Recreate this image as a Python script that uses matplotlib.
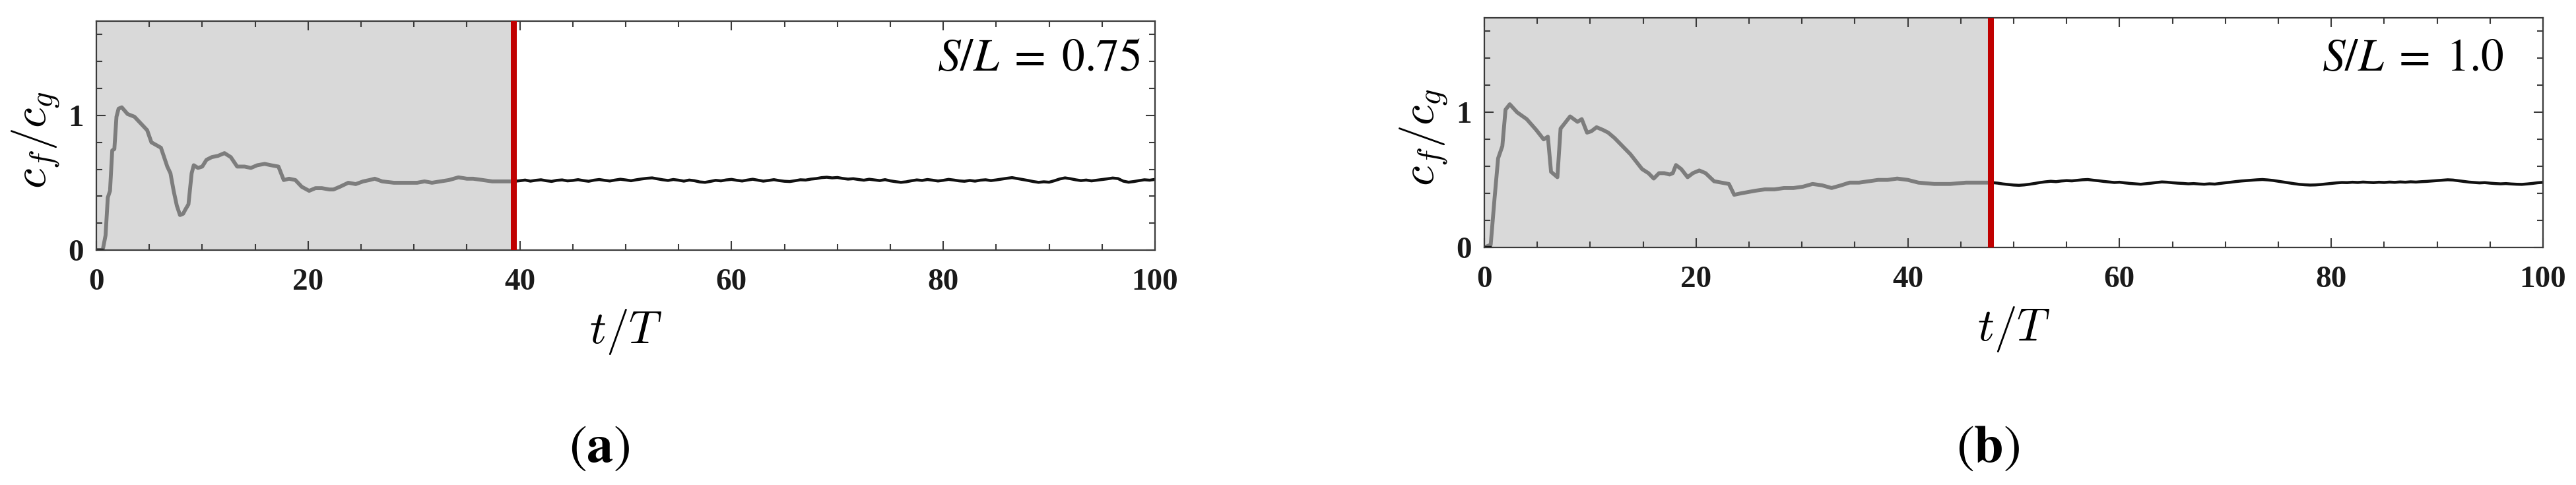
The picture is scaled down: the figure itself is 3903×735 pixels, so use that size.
import numpy as np
import matplotlib
matplotlib.use("Agg")
import matplotlib.pyplot as plt
from matplotlib.ticker import MultipleLocator, FixedLocator

plt.rcParams['font.family'] = ['Liberation Serif', 'DejaVu Serif']

# ---------------- data ----------------
x_ticks = [0, 20, 40, 60, 80, 100]
y_ticks = [0, 1]

# panel (a) S/L = 0.75
switch_a = 39.4
t_a_gray = [0, 0.6, 0.87, 1.08, 1.29, 1.5, 1.7, 1.9, 2.1, 2.4,
            2.95, 3.6, 4.2, 4.8, 5.2, 5.65, 6.1, 6.4, 6.7, 7.0,
            7.3, 7.6, 7.9, 8.2, 8.4, 8.7, 9.0, 9.2, 9.6, 10.0,
            10.4, 10.9, 11.5, 12.1, 12.7, 13.3, 14.0, 14.6, 15.2, 15.9,
            16.5, 17.2, 17.7, 18.2, 18.8, 19.4, 20.1, 20.7, 21.3, 22.0,
            22.4, 23.0, 23.8, 24.5, 25.2, 25.8, 26.3, 27.0, 28.1, 29.0,
            30.3, 31.0, 31.7, 32.5, 33.3, 34.2, 35.0, 35.6, 36.5, 37.4,
            38.4, 39.4]
v_a_gray = [0, 0, 0.11, 0.39, 0.44, 0.74, 0.75, 0.99, 1.05, 1.06,
            1.01, 0.99, 0.94, 0.89, 0.80, 0.78, 0.76, 0.69, 0.62, 0.57,
            0.44, 0.33, 0.26, 0.27, 0.30, 0.34, 0.57, 0.63, 0.61, 0.62,
            0.67, 0.69, 0.70, 0.72, 0.69, 0.62, 0.62, 0.61, 0.63, 0.64,
            0.63, 0.62, 0.52, 0.53, 0.52, 0.47, 0.44, 0.46, 0.46, 0.45,
            0.45, 0.47, 0.50, 0.49, 0.51, 0.52, 0.53, 0.51, 0.50, 0.50,
            0.50, 0.51, 0.50, 0.51, 0.52, 0.54, 0.53, 0.53, 0.52, 0.51,
            0.51, 0.51]
t_a_black = [39.4] + list(np.linspace(40, 100, 121))
v_a_black = [0.510,
             0.515, 0.520, 0.512, 0.518, 0.522, 0.515, 0.510, 0.518, 0.521, 0.514,
             0.517, 0.523, 0.516, 0.511, 0.519, 0.524, 0.518, 0.513, 0.520, 0.526,
             0.521, 0.515, 0.522, 0.528, 0.533, 0.536, 0.529, 0.522, 0.517, 0.524,
             0.519, 0.512, 0.520, 0.515, 0.506, 0.503, 0.510, 0.518, 0.514, 0.521,
             0.525, 0.518, 0.513, 0.520, 0.526, 0.519, 0.512, 0.517, 0.523, 0.516,
             0.511, 0.509, 0.515, 0.522, 0.520, 0.527, 0.531, 0.538, 0.541, 0.536,
             0.539, 0.532, 0.527, 0.530, 0.524, 0.519, 0.526, 0.521, 0.516, 0.523,
             0.514, 0.508, 0.503, 0.507, 0.515, 0.521, 0.517, 0.524, 0.519, 0.513,
             0.518, 0.525, 0.520, 0.514, 0.511, 0.517, 0.512, 0.519, 0.522, 0.516,
             0.521, 0.527, 0.533, 0.538, 0.531, 0.524, 0.517, 0.509, 0.503, 0.507,
             0.504, 0.515, 0.528, 0.536, 0.530, 0.522, 0.516, 0.520, 0.514, 0.519,
             0.524, 0.529, 0.535, 0.531, 0.512, 0.504, 0.509, 0.516, 0.522, 0.519,
             0.525]

# panel (b) S/L = 1.0
switch_b = 47.8
t_b_gray = [0, 0.6, 0.96, 1.3, 1.7, 2.0, 2.4, 3.1, 4.0, 4.9,
            5.6, 6.0, 6.3, 6.9, 7.2, 7.6, 8.1, 8.8, 9.2, 9.7,
            10.1, 10.6, 11.2, 11.7, 12.3, 12.8, 13.3, 13.8, 14.4, 14.9,
            15.5, 16.0, 16.5, 17.0, 17.5, 17.8, 18.1, 18.6, 19.2, 19.7,
            20.3, 20.9, 21.7, 22.4, 23.1, 23.6, 24.2, 24.9, 25.6, 26.5,
            27.4, 28.3, 29.2, 30.1, 31.0, 31.9, 32.8, 33.7, 34.5, 35.4,
            36.3, 37.2, 38.1, 39.0, 40.0, 41.0, 42.5, 44.0, 45.5, 47.0,
            47.8]
v_b_gray = [0, 0.02, 0.36, 0.66, 0.75, 1.02, 1.06, 1.00, 0.95, 0.87,
            0.80, 0.82, 0.56, 0.52, 0.88, 0.92, 0.97, 0.93, 0.95, 0.85,
            0.86, 0.89, 0.87, 0.85, 0.81, 0.77, 0.73, 0.69, 0.63, 0.58,
            0.55, 0.51, 0.55, 0.55, 0.54, 0.55, 0.61, 0.58, 0.52, 0.55,
            0.57, 0.55, 0.49, 0.48, 0.47, 0.39, 0.40, 0.41, 0.42, 0.43,
            0.43, 0.44, 0.44, 0.45, 0.47, 0.46, 0.44, 0.46, 0.48, 0.48,
            0.49, 0.50, 0.50, 0.51, 0.50, 0.48, 0.47, 0.47, 0.48, 0.48,
            0.48]
t_b_black = [47.8] + list(np.linspace(48, 100, 105))
v_b_black = [0.480,
             0.480, 0.476, 0.470, 0.466, 0.462, 0.460, 0.463, 0.468, 0.474, 0.481,
             0.486, 0.490, 0.487, 0.492, 0.495, 0.493, 0.497, 0.501, 0.503, 0.498,
             0.494, 0.489, 0.485, 0.481, 0.483, 0.478, 0.474, 0.471, 0.468, 0.472,
             0.476, 0.481, 0.485, 0.483, 0.479, 0.476, 0.474, 0.471, 0.473, 0.470,
             0.468, 0.471, 0.469, 0.474, 0.479, 0.483, 0.488, 0.492, 0.495, 0.498,
             0.501, 0.503, 0.500, 0.496, 0.490, 0.484, 0.478, 0.472, 0.467, 0.464,
             0.462, 0.463, 0.466, 0.470, 0.474, 0.478, 0.481, 0.480, 0.483, 0.481,
             0.484, 0.482, 0.480, 0.483, 0.481, 0.484, 0.482, 0.485, 0.483, 0.486,
             0.484, 0.487, 0.489, 0.492, 0.495, 0.498, 0.501, 0.499, 0.494, 0.489,
             0.484, 0.481, 0.478, 0.480, 0.476, 0.473, 0.471, 0.473, 0.470, 0.468,
             0.467, 0.470, 0.474, 0.479, 0.482]

labels_sl = [r"$S/L\;=\;0.75$", r"$S/L\;=\;1.0$"]
panel_tags = [r"$(\mathbf{a})$", r"$(\mathbf{b})$"]

# ---------------- figure ----------------
W, H = 3903, 735
fig = plt.figure(figsize=(W / 100, H / 100), dpi=100)
ax_a = fig.add_axes([146 / W, 1 - 379 / H, 1604 / W, 347 / H])
ax_b = fig.add_axes([2249 / W, 1 - 375 / H, 1604 / W, 348 / H])

SPINE = '#3a3a3a'


def draw(ax, sw, tg, vg, tb, vb, sl, sl_x, sl_y):
    ax.axvspan(0, sw, color='#d9d9d9', zorder=0, lw=0)
    ax.plot(tg, vg, color='#7d7d7d', lw=4.2, zorder=2, solid_joinstyle='round')
    ax.plot(tb, vb, color='#111111', lw=3.2, zorder=2, solid_joinstyle='round')
    ax.plot([0, 0.55], [0.005, 0.005], color='#111111', lw=2.5, zorder=2)
    ax.axvline(sw, color='#c00000', lw=6.5, zorder=3)
    ax.set_xlim(0, 100)
    ax.set_ylim(0, 1.7)
    ax.xaxis.set_major_locator(FixedLocator(x_ticks))
    ax.xaxis.set_minor_locator(MultipleLocator(5))
    ax.yaxis.set_major_locator(FixedLocator(y_ticks))
    ax.yaxis.set_minor_locator(MultipleLocator(0.2))
    ax.set_xticklabels([str(v) for v in x_ticks])
    ax.set_yticklabels([str(v) for v in y_ticks])
    ax.tick_params(which='both', direction='in', top=True, right=True,
                   color=SPINE, width=1.5)
    ax.tick_params(which='major', length=10, labelsize=34)
    ax.tick_params(which='minor', length=6.5)
    ax.tick_params(axis='x', which='major', pad=20)
    ax.tick_params(axis='y', which='major', pad=14)
    for lbl in ax.get_xticklabels() + ax.get_yticklabels():
        lbl.set_fontweight('bold')
        lbl.set_color('#1a1a1a')
    for sp in ax.spines.values():
        sp.set_color(SPINE)
        sp.set_linewidth(1.6)
    ax.set_xlabel(r"$t/T$", fontsize=50, math_fontfamily='cm', va='top')
    ax.xaxis.set_label_coords(0.5, -0.25)
    ax.set_ylabel(r"$c_f/c_g$", fontsize=50, math_fontfamily='cm')
    ax.yaxis.set_label_coords(-0.032, 0.48)
    ax.text(sl_x, sl_y, sl, transform=ax.transAxes, ha='right', va='baseline',
            fontsize=50, math_fontfamily='stix', zorder=5)


draw(ax_a, switch_a, t_a_gray, v_a_gray, t_a_black, v_a_black, labels_sl[0], 0.986, 0.784)
draw(ax_b, switch_b, t_b_gray, v_b_gray, t_b_black, v_b_black, labels_sl[1], 0.963, 0.770)

fig.text(908 / W, 1 - 680 / H, panel_tags[0], ha='center', va='center',
         fontsize=58, math_fontfamily='stix')
fig.text(3012 / W, 1 - 680 / H, panel_tags[1], ha='center', va='center',
         fontsize=58, math_fontfamily='stix')

fig.savefig("out.png", dpi=100, facecolor='white')
